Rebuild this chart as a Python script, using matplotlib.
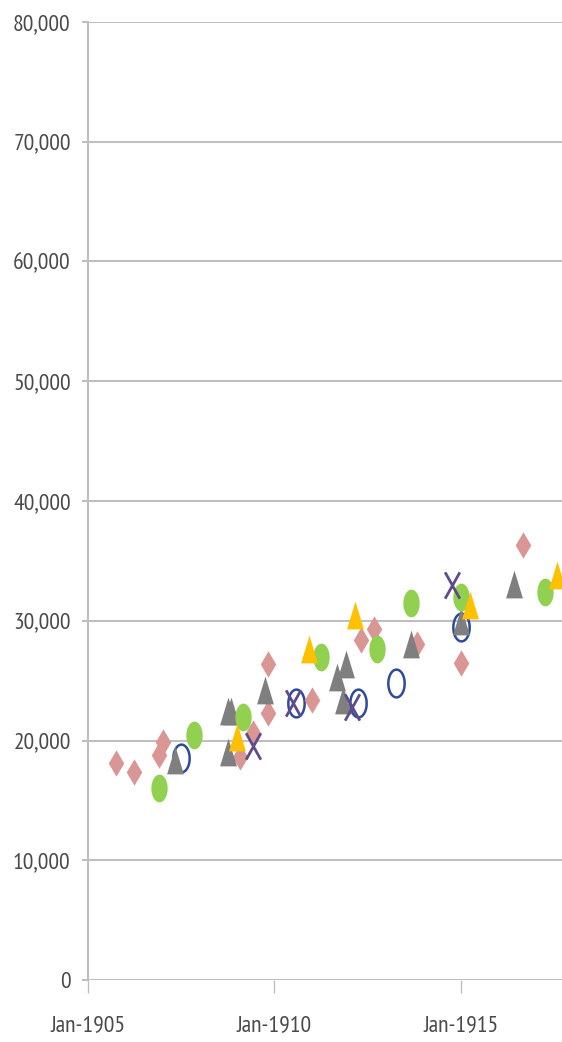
import matplotlib
matplotlib.use("Agg")
import matplotlib.pyplot as plt
import matplotlib.dates as mdates
from matplotlib.path import Path
from matplotlib.ticker import FuncFormatter
import numpy as np
import pandas as pd

# data (month, value)
pink_dates = ['1905-10', '1906-04', '1906-12', '1907-01', '1909-02', '1909-06', '1909-11',
              '1909-11', '1911-01', '1912-05', '1912-09', '1913-11', '1915-01', '1916-09']
pink_vals = [18100, 17400, 18800, 19900, 18600, 20600, 22300,
             26400, 23400, 28400, 29300, 28100, 26500, 36300]

grey_dates = ['1907-05', '1908-10', '1908-11', '1908-10', '1909-10', '1911-09', '1911-12',
              '1911-11', '1913-09', '1915-01', '1916-06']
grey_vals = [18400, 22500, 22500, 19000, 24200, 25300, 26400,
             23400, 28100, 30000, 33100]

green_dates = ['1906-12', '1907-11', '1909-03', '1911-04', '1912-10', '1913-09', '1915-01', '1917-04']
green_vals = [16000, 20500, 22000, 27000, 27600, 31500, 32000, 32400]

blue_dates = ['1907-07', '1910-08', '1912-04', '1913-04', '1915-01']
blue_vals = [18500, 23100, 23100, 24800, 29500]

cross_dates = ['1909-06', '1910-07', '1912-02', '1914-10']
cross_vals = [19500, 23100, 22800, 33000]

yellow_dates = ['1909-01', '1910-12', '1912-03', '1915-04', '1917-08']
yellow_vals = [20300, 27600, 30500, 31300, 33800]

y_ticks = [0, 10000, 20000, 30000, 40000, 50000, 60000, 70000, 80000]

# markers are stretched vertically like in the original picture
sy = 1.7
t = np.linspace(0, 2 * np.pi, 61)
m_circle = [(np.cos(a), sy * np.sin(a)) for a in t]
m_diamond = [(0, sy), (1, 0), (0, -sy), (-1, 0), (0, sy)]
m_tri = [(0, sy), (-1.03, -sy), (1.03, -sy), (0, sy)]
m_cross = Path([(-0.95, -sy), (0.95, sy), (-0.95, sy), (0.95, -sy)],
               [Path.MOVETO, Path.LINETO, Path.MOVETO, Path.LINETO])

font = ['PT Sans Narrow', 'DejaVu Sans']
txt_col = '#4A4A4A'
grid_col = '#BFBFBF'

fig = plt.figure(figsize=(5.62, 10.42), dpi=100)
ax = fig.add_axes([88 / 562, 62 / 1042, 1 - 88 / 562, 958 / 1042])

d = pd.to_datetime
ax.plot(d(blue_dates), blue_vals, ls='none', marker=m_circle, ms=20,
        mfc='none', mec='#2E4B9B', mew=1.8)
ax.plot(d(pink_dates), pink_vals, ls='none', marker=m_diamond, ms=19,
        mfc='#D99694', mec='none')
ax.plot(d(grey_dates), grey_vals, ls='none', marker=m_tri, ms=20,
        mfc='#7F7F7F', mec='none')
ax.plot(d(green_dates), green_vals, ls='none', marker=m_circle, ms=20,
        mfc='#92D050', mec='none')
ax.plot(d(yellow_dates), yellow_vals, ls='none', marker=m_tri, ms=20,
        mfc='#FFC000', mec='none')
ax.plot(d(cross_dates), cross_vals, ls='none', marker=m_cross, ms=19,
        mfc='none', mec='#5F4B8B', mew=2)

ax.set_xlim(d('1905-01-01'), d('1917-09-16'))
ax.set_ylim(0, 80000)
ax.set_yticks(y_ticks)
ax.yaxis.set_major_formatter(FuncFormatter(lambda v, p: f'{v:,.0f}'))
ax.xaxis.set_major_locator(mdates.YearLocator(base=5, month=1, day=1))
ax.xaxis.set_major_formatter(mdates.DateFormatter('%b-%Y'))

ax.yaxis.grid(True, color=grid_col, lw=1.5)
ax.set_axisbelow(True)
for s in ['top', 'right', 'bottom']:
    ax.spines[s].set_visible(False)
ax.spines['left'].set_color(grid_col)
ax.spines['left'].set_linewidth(1.5)

ax.tick_params(axis='y', length=4.5, width=1.5, color=grid_col, pad=8,
               labelcolor=txt_col, labelsize=17)
ax.tick_params(axis='x', length=9, width=1, color=grid_col, pad=16,
               labelcolor=txt_col, labelsize=17)
for lab in ax.get_xticklabels() + ax.get_yticklabels():
    lab.set_family(font)

fig.savefig('out.png', dpi=100)
